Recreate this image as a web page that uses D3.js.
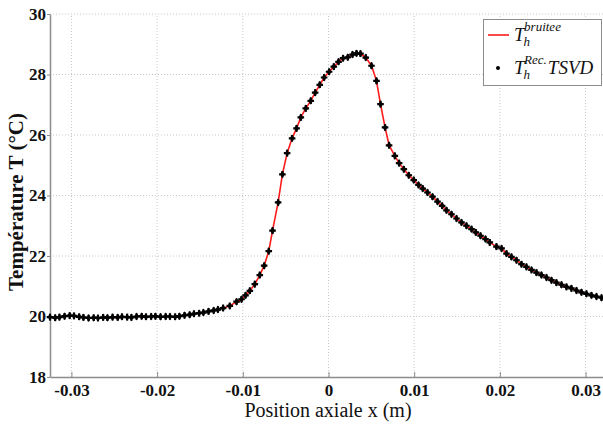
<!DOCTYPE html>
<html>
<head>
<meta charset="utf-8">
<script src="https://cdn.jsdelivr.net/npm/d3@7"></script>
<style>
  body { margin: 0; background: #fff; }
  svg { display: block; }
  text { font-family: "Liberation Serif", "Times New Roman", serif; }
</style>
</head>
<body>
<div id="chart"></div>
<script>
// temperature profile, noisy vs TSVD reconstruction

const chartWidth = 603;
const chartHeight = 427;

// axial position (m)
const xPos = [
  -0.0325, -0.0319, -0.0314, -0.0308, -0.0302, -0.0297, -0.0291, -0.0286, -0.0280, -0.0274,
  -0.0269, -0.0263, -0.0258, -0.0252, -0.0246, -0.0241, -0.0235, -0.0230, -0.0224, -0.0218,
  -0.0213, -0.0207, -0.0202, -0.0196, -0.0190, -0.0185, -0.0179, -0.0174, -0.0168, -0.0162,
  -0.0157, -0.0151, -0.0146, -0.0140, -0.0134, -0.0129, -0.0123,
  -0.01152, -0.01073, -0.01015, -0.00968, -0.00918, -0.0086, -0.00802, -0.00751, -0.00697,
  -0.00653, -0.00588,
  -0.00538, -0.00483, -0.00425, -0.00373, -0.00323, -0.00265, -0.00207, -0.00156, -0.00102,
  -0.00051, 0.00007, 0.00062, 0.00117, 0.0017, 0.00225, 0.0028, 0.00327, 0.00373, 0.00435,
  0.00502, 0.0056, 0.00607, 0.0066, 0.00707,
  0.00774, 0.00824, 0.00879, 0.00937, 0.00995, 0.0105, 0.0110, 0.01155, 0.01214, 0.01272,
  0.01326, 0.01377, 0.01435, 0.01494, 0.01552, 0.0161, 0.01669, 0.01719, 0.01774, 0.01832,
  0.01882,
  0.0196, 0.0202, 0.02077, 0.02135, 0.02194, 0.02252, 0.0231, 0.02369, 0.02427, 0.02485,
  0.02544, 0.02602, 0.0266, 0.02719, 0.02777, 0.02835, 0.02894, 0.02952, 0.0301, 0.03069,
  0.03127, 0.03186
];

// temperature (°C)
const tRec = [
  19.98, 19.96, 19.98, 20.01, 20.03, 20.02, 19.99, 19.97, 19.95, 19.96,
  19.95, 19.97, 19.96, 19.98, 19.97, 19.99, 19.98, 19.97, 20.00, 20.01,
  19.99, 20.00, 20.01, 19.99, 20.00, 20.00, 19.99, 20.01, 20.04, 20.06,
  20.09, 20.11, 20.13, 20.17, 20.20, 20.23, 20.28,
  20.35, 20.49, 20.57, 20.70, 20.85, 21.07, 21.37, 21.68, 22.16,
  22.84, 23.77,
  24.70, 25.40, 25.89, 26.22, 26.58, 26.88, 27.13, 27.40, 27.66,
  27.90, 28.09, 28.26, 28.42, 28.54, 28.57, 28.66, 28.70, 28.69, 28.56,
  28.29, 27.79, 27.02, 26.25, 25.66,
  25.31, 25.07, 24.87, 24.67, 24.51, 24.35, 24.23, 24.10, 23.96, 23.80,
  23.66, 23.51, 23.38, 23.24, 23.11, 23.00, 22.89, 22.78, 22.67, 22.56,
  22.45,
  22.31, 22.25, 22.08, 21.97, 21.86, 21.73, 21.64, 21.54, 21.45, 21.37,
  21.29, 21.20, 21.12, 21.05, 20.98, 20.93, 20.86, 20.80, 20.75, 20.70,
  20.66, 20.62
];

const xTicks = [-0.03, -0.02, -0.01, 0, 0.01, 0.02, 0.03];
const xTickLabels = ["-0.03", "-0.02", "-0.01", "0", "0.01", "0.02", "0.03"];
const yTicks = [18, 20, 22, 24, 26, 28, 30];

const points = xPos.map((x, i) => [x, tRec[i]]);

var svg = d3.select("#chart").append("svg")
    .attr("width", chartWidth)
    .attr("height", chartHeight);

svg.append("rect")
    .attr("width", "100%")
    .attr("height", "100%")
    .attr("fill", "#fff");

var xScale = d3.scaleLinear()
    .domain([-0.0325, 0.0325])
    .range([50, 607]);

var yScale = d3.scaleLinear()
    .domain([18, 30])
    .range([377, 14]);

// grid
svg.append("g").selectAll("line")
    .data(xTicks)
    .join("line")
    .attr("x1", d => xScale(d)).attr("x2", d => xScale(d))
    .attr("y1", yScale(18)).attr("y2", yScale(30))
    .attr("stroke", "#c8c8c8")
    .attr("stroke-width", 1)
    .attr("stroke-dasharray", "1,2");

svg.append("g").selectAll("line")
    .data(yTicks.slice(1))
    .join("line")
    .attr("x1", xScale(-0.0325)).attr("x2", chartWidth)
    .attr("y1", d => yScale(d)).attr("y2", d => yScale(d))
    .attr("stroke", "#c8c8c8")
    .attr("stroke-width", 1)
    .attr("stroke-dasharray", "1,2");

// axes
var xAxis = svg.append("g")
    .attr("transform", "translate(0," + yScale(18) + ")")
    .call(d3.axisBottom(xScale).tickValues(xTicks).tickSizeInner(-5).tickSizeOuter(0)
        .tickFormat((d, i) => xTickLabels[i]));
xAxis.select(".domain").attr("stroke", "#8c8c8c").attr("stroke-width", 1.5);
xAxis.selectAll(".tick line").attr("stroke", "#8c8c8c");
xAxis.selectAll(".tick text")
    .attr("dy", 0).attr("y", 19)
    .attr("font-size", 17)
    .attr("font-weight", "bold")
    .attr("fill", "#111");

var yAxis = svg.append("g")
    .attr("transform", "translate(" + xScale(-0.0325) + ",0)")
    .call(d3.axisLeft(yScale).tickValues(yTicks).tickSizeInner(3).tickSizeOuter(0));
yAxis.attr("font-family", null);
xAxis.attr("font-family", null);
yAxis.select(".domain").attr("stroke", "#8c8c8c").attr("stroke-width", 1.5);
yAxis.selectAll(".tick line").attr("stroke", "#8c8c8c");
yAxis.selectAll(".tick text")
    .attr("x", -4)
    .attr("font-size", 17)
    .attr("font-weight", "bold")
    .attr("fill", "#111");

// axis titles
svg.append("text")
    .attr("x", 328)
    .attr("y", 417)
    .attr("text-anchor", "middle")
    .attr("font-size", 20)
    .attr("fill", "#111")
    .text("Position axiale x (m)");

svg.append("text")
    .attr("transform", "translate(23,202) rotate(-90)")
    .attr("text-anchor", "middle")
    .attr("font-size", 21)
    .attr("font-weight", "bold")
    .attr("fill", "#111")
    .text("Température T (°C)");

// series
const lineGenerator = d3.line()
    .x(d => xScale(d[0]))
    .y(d => yScale(d[1]));

svg.append("path")
    .datum(points)
    .attr("d", lineGenerator)
    .attr("fill", "none")
    .attr("stroke", "#ff1a1a")
    .attr("stroke-width", 1.6);

const cross = d3.symbol().type(d3.symbolCross).size(24);
const diamond = d3.symbol().type(d3.symbolDiamond).size(18);

var marks = svg.append("g").selectAll("g")
    .data(points)
    .join("g")
    .attr("transform", d => "translate(" + xScale(d[0]) + "," + yScale(d[1]) + ")");
marks.append("path").attr("d", cross).attr("fill", "#000");
marks.append("path").attr("d", diamond).attr("fill", "#000");

// legend
var legend = svg.append("g");
legend.append("rect")
    .attr("x", 483.5).attr("y", 19.5)
    .attr("width", 118).attr("height", 66)
    .attr("fill", "#fff")
    .attr("stroke", "#8c8c8c")
    .attr("stroke-width", 1);

legend.append("line")
    .attr("x1", 488).attr("x2", 509)
    .attr("y1", 35).attr("y2", 35)
    .attr("stroke", "#ff1a1a")
    .attr("stroke-width", 1.6);

legend.append("circle")
    .attr("cx", 498).attr("cy", 68)
    .attr("r", 2)
    .attr("fill", "#000");

function legendLabel(y, sup, rest) {
    var t = legend.append("text")
        .attr("x", 514)
        .attr("y", y)
        .attr("font-style", "italic")
        .attr("fill", "#111");
    t.append("tspan").attr("font-size", 19).text("T");
    t.append("tspan").attr("font-size", 13).attr("dx", -1).attr("dy", 5).text("h");
    t.append("tspan").attr("font-size", 13).attr("dx", -6).attr("dy", -15).text(sup);
    if (rest) {
        t.append("tspan").attr("font-size", 19).attr("dx", 1).attr("dy", 10).text(rest);
    }
}
legendLabel(41, "bruitee", null);
legendLabel(74, "Rec.", "TSVD");
</script>
</body>
</html>
